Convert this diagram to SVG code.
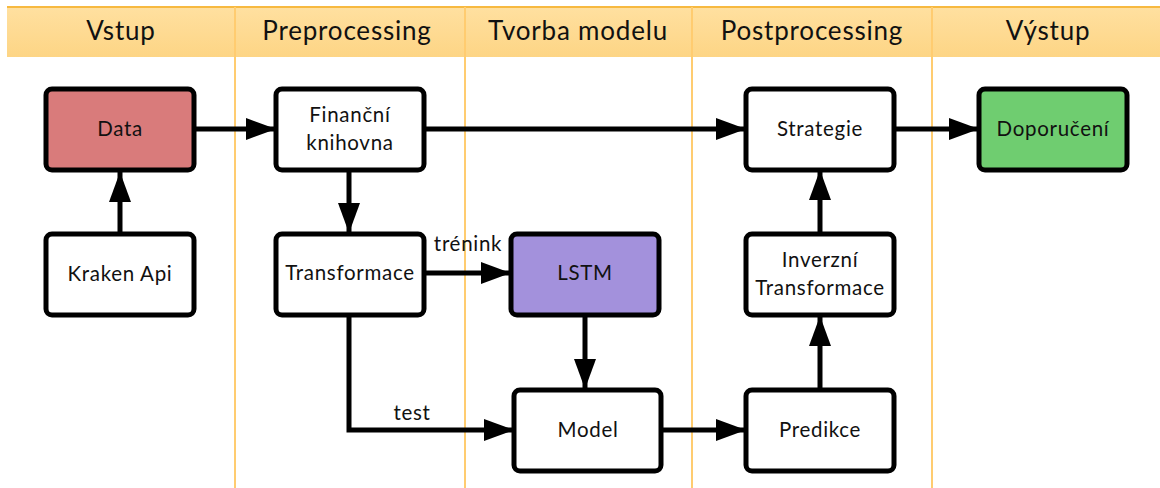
<svg xmlns="http://www.w3.org/2000/svg" width="1160" height="488" viewBox="0 0 1160 488">
<defs>
<linearGradient id="hdr" x1="0" y1="0" x2="0" y2="1">
<stop offset="0" stop-color="#FFE0A0"/>
<stop offset="1" stop-color="#FDD585"/>
</linearGradient>
<marker id="ah" viewBox="0 0 30 22" refX="30" refY="11" markerWidth="30" markerHeight="22" markerUnits="userSpaceOnUse" orient="auto">
<path d="M0,0 L30,11 L0,22 Z" fill="#000"/>
</marker>
<style>
.lane{stroke:#FFCC70;stroke-width:2;fill:none}
.htxt{font-family:Lato,"Open Sans",sans-serif;font-size:26px;fill:#111;text-anchor:middle;letter-spacing:0.8px}
.box{stroke:#000;stroke-width:5;fill:#fff}
.ntxt{font-family:Lato,"Open Sans",sans-serif;font-size:20.5px;fill:#111;text-anchor:middle;letter-spacing:0.7px}
.ltxt{font-family:Lato,"Open Sans",sans-serif;font-size:20.5px;fill:#111;text-anchor:middle;letter-spacing:0.7px}
.con{stroke:#000;stroke-width:5;fill:none;marker-end:url(#ah)}
</style>
</defs>
<rect width="1160" height="488" fill="#fff"/>
<g id="header">
<rect x="7" y="7" width="1153" height="50" fill="url(#hdr)"/>
<line x1="7" y1="7" x2="1160" y2="7" stroke="#F7B940" stroke-width="2"/>
<line class="lane" x1="235" y1="7" x2="235" y2="488"/>
<line class="lane" x1="465" y1="7" x2="465" y2="488"/>
<line class="lane" x1="692" y1="7" x2="692" y2="488"/>
<line class="lane" x1="932" y1="7" x2="932" y2="488"/>
<text class="htxt" x="121" y="40">Vstup</text>
<text class="htxt" x="347" y="40">Preprocessing</text>
<text class="htxt" x="578" y="40">Tvorba modelu</text>
<text class="htxt" x="812" y="40">Postprocessing</text>
<text class="htxt" x="1048" y="40">Výstup</text>
</g>
<g id="connectors">
<line class="con" x1="120" y1="233" x2="120" y2="172"/>
<line class="con" x1="194" y1="129" x2="276" y2="129"/>
<line class="con" x1="424" y1="129" x2="746" y2="129"/>
<line class="con" x1="894" y1="129" x2="979" y2="129"/>
<line class="con" x1="349" y1="170" x2="349" y2="233"/>
<line class="con" x1="424" y1="273" x2="511" y2="273"/>
<line class="con" x1="585" y1="316" x2="585" y2="389"/>
<polyline class="con" points="349,316 349,430 514,430"/>
<line class="con" x1="661" y1="430" x2="746" y2="430"/>
<line class="con" x1="820" y1="390" x2="820" y2="316"/>
<line class="con" x1="820" y1="233" x2="820" y2="170"/>
<text class="ltxt" x="468" y="251">trénink</text>
<text class="ltxt" x="412" y="420">test</text>
</g>
<g id="data"><rect class="box" x="46" y="89" width="148" height="81" rx="6" style="fill:#D97B7B"/><text class="ntxt" x="120" y="136">Data</text></g>
<g id="kraken"><rect class="box" x="46" y="234" width="148" height="81" rx="6"/><text class="ntxt" x="120" y="281">Kraken Api</text></g>
<g id="financni"><rect class="box" x="276" y="89" width="148" height="81" rx="6"/><text class="ntxt" x="350" y="122">Finanční</text><text class="ntxt" x="350" y="150">knihovna</text></g>
<g id="transformace"><rect class="box" x="276" y="234" width="148" height="81" rx="6"/><text class="ntxt" x="350" y="280">Transformace</text></g>
<g id="lstm"><rect class="box" x="511" y="234" width="148" height="81" rx="6" style="fill:#A391DC"/><text class="ntxt" x="585" y="280">LSTM</text></g>
<g id="model"><rect class="box" x="514" y="390" width="147" height="81" rx="6"/><text class="ntxt" x="588" y="437">Model</text></g>
<g id="strategie"><rect class="box" x="746" y="89" width="148" height="81" rx="6"/><text class="ntxt" x="820" y="136">Strategie</text></g>
<g id="inverzni"><rect class="box" x="746" y="234" width="148" height="81" rx="6"/><text class="ntxt" x="820" y="267">Inverzní</text><text class="ntxt" x="820" y="295">Transformace</text></g>
<g id="predikce"><rect class="box" x="746" y="390" width="148" height="81" rx="6"/><text class="ntxt" x="820" y="437">Predikce</text></g>
<g id="doporuceni"><rect class="box" x="979" y="89" width="148" height="81" rx="6" style="fill:#6FCD70"/><text class="ntxt" x="1053" y="136">Doporučení</text></g>
</svg>
